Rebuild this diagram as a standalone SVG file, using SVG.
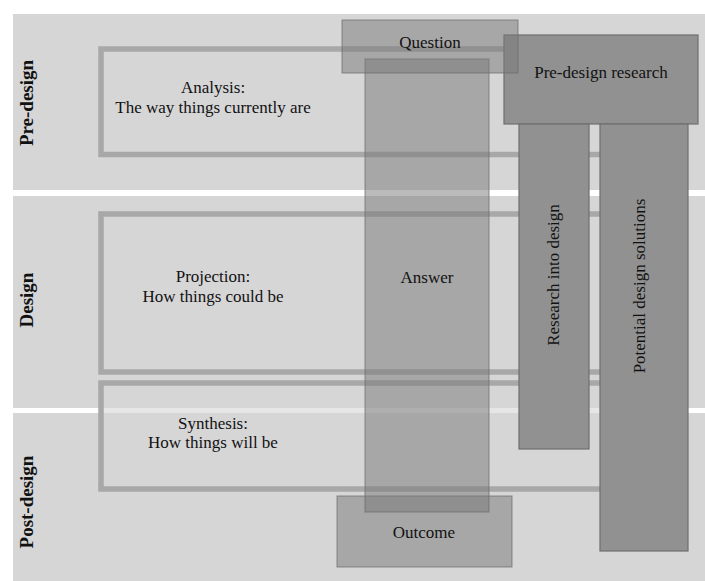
<svg xmlns="http://www.w3.org/2000/svg" width="705" height="581" viewBox="0 0 705 581">
<style>
text{font-family:"Liberation Serif","Times New Roman",serif;fill:#111;font-size:17px;text-anchor:middle}
.phase{font-weight:bold;font-size:19px}
.band{fill:#d7d6d7}
.frame{fill:#d7d6d7;fill-opacity:0.6;stroke:#a9a8a9;stroke-width:5.5}
.trans{fill:#787878;fill-opacity:0.5;stroke:#6a6a6a;stroke-opacity:0.6;stroke-width:1.2}
.solid{fill:#929192;stroke:#6e6e6e;stroke-width:1.2}
</style>
<rect width="705" height="581" fill="#ffffff"/>
<g id="bands">
<g id="band-predesign"><rect class="band" x="13" y="14" width="692" height="176"/><text class="phase" transform="translate(33,103) rotate(-90)">Pre-design</text></g>
<g id="band-design"><rect class="band" x="13" y="196" width="692" height="212"/><text class="phase" transform="translate(33,300) rotate(-90)">Design</text></g>
<g id="band-postdesign"><rect class="band" x="13" y="413" width="692" height="168"/><text class="phase" transform="translate(33,502) rotate(-90)">Post-design</text></g>
</g>
<g id="analysis"><rect class="frame" x="101" y="49" width="540" height="105.5"/><text x="213" y="93">Analysis:</text><text x="213" y="113">The way things currently are</text></g>
<g id="projection"><rect class="frame" x="101" y="214" width="540" height="158"/><text x="213" y="282">Projection:</text><text x="213" y="302">How things could be</text></g>
<g id="synthesis"><rect class="frame" x="101" y="383" width="540" height="106"/><text x="213" y="429">Synthesis:</text><text x="213" y="448">How things will be</text></g>
<g id="pre-design-research"><rect class="solid" x="504" y="35" width="194" height="89"/><text x="601" y="78">Pre-design research</text></g>
<g id="research-into-design"><rect class="solid" x="519" y="124" width="70" height="325"/><text transform="translate(559,275) rotate(-90)">Research into design</text></g>
<g id="potential-design-solutions"><rect class="solid" x="600" y="124" width="88" height="427"/><text transform="translate(645,286) rotate(-90)">Potential design solutions</text></g>
<g id="outcome"><rect class="trans" x="337" y="496" width="175" height="71"/><text x="424" y="538">Outcome</text></g>
<g id="answer"><rect class="trans" x="365" y="59" width="124" height="453"/><text x="427" y="283">Answer</text></g>
<g id="question"><rect class="trans" x="342" y="20" width="176" height="53"/><text x="430" y="48">Question</text></g>
<g id="connectors"></g>
</svg>
